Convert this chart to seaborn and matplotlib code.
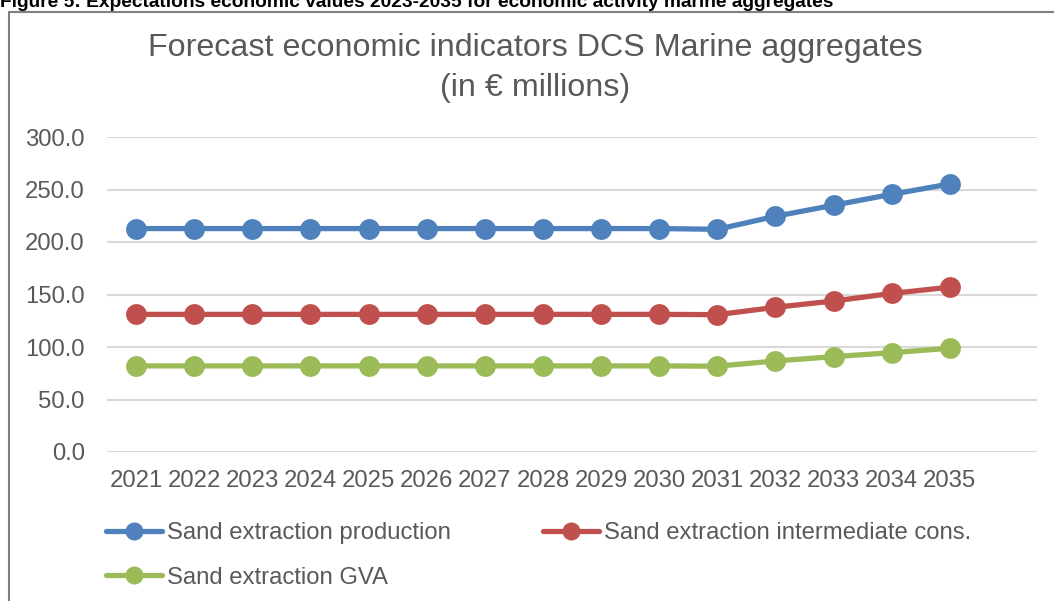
import matplotlib
matplotlib.use("Agg")
import matplotlib.pyplot as plt
import matplotlib.patches as mpatches
import pandas as pd
import seaborn as sns

# Forecast years and indicator values (EUR millions)
years = list(range(2021, 2036))
production = [212.8, 212.8, 212.8, 212.8, 212.8, 212.8, 212.8, 212.8, 212.8, 212.8,
              212.1, 224.5, 235.0, 245.4, 255.3]
intermediate = [131.1, 131.1, 131.1, 131.1, 131.1, 131.1, 131.1, 131.1, 131.1, 131.1,
                130.8, 137.8, 143.8, 151.0, 157.0]
gva = [82.0, 82.0, 82.0, 82.0, 82.0, 82.0, 82.0, 82.0, 82.0, 82.0,
       81.7, 86.7, 90.8, 94.6, 98.8]
series_names = ["Sand extraction production",
                "Sand extraction intermediate cons.",
                "Sand extraction GVA"]
colors = ["#4F81BD", "#C0504D", "#9BBB59"]
y_ticks = [0, 50, 100, 150, 200, 250, 300]

df = pd.DataFrame({
    "year": years * 3,
    "value": production + intermediate + gva,
    "series": [series_names[0]] * 15 + [series_names[1]] * 15 + [series_names[2]] * 15,
})

sns.set_theme(style="white")
plt.rcParams["font.family"] = ["Liberation Sans", "DejaVu Sans"]
text_color = "#595959"
label_size = 17.2

W, H = 1054, 601
fig = plt.figure(figsize=(W / 100, H / 100), dpi=100)
fig.patch.set_facecolor("white")

# plot area in pixel terms
left, right, top, bottom = 107, 1037, 137, 452
ax = fig.add_axes([left / W, 1 - bottom / H, (right - left) / W, (bottom - top) / H])

sns.lineplot(data=df, x="year", y="value", hue="series", palette=colors,
             hue_order=series_names, marker="o", markersize=15, linewidth=3.8,
             markeredgewidth=0, ax=ax, legend=True)

ax.set_xlim(2020.5, 2036.5)
ax.set_ylim(0, 300)
ax.set_xticks(years)
ax.set_xticklabels([str(y) for y in years])
ax.set_yticks(y_ticks)
ax.set_yticklabels([f"{v:.1f}" for v in y_ticks])
ax.set_xlabel("")
ax.set_ylabel("")
ax.yaxis.grid(True, color="#D9D9D9", linewidth=1.5)
ax.xaxis.grid(False)
ax.set_axisbelow(True)
for s in ax.spines.values():
    s.set_visible(False)
ax.tick_params(axis="y", length=0, pad=16, labelsize=label_size, labelcolor=text_color)
ax.tick_params(axis="x", length=0, pad=13, labelsize=label_size, labelcolor=text_color)

handles, labels = ax.get_legend_handles_labels()
ax.get_legend().remove()
for h in handles:
    h.set_markersize(13)
    h.set_linewidth(3.8)
# fill rows left-to-right: production, intermediate / GVA
order = [0, 2, 1]
fig.legend([handles[i] for i in order], [labels[i] for i in order], loc="upper left",
           bbox_to_anchor=(106 / W, 1 - 522 / H), ncol=2, frameon=False,
           fontsize=label_size, labelcolor=text_color, handlelength=2.35,
           handletextpad=0.2, columnspacing=3.85, labelspacing=0.95,
           borderpad=0, borderaxespad=0)

# chart title
fig.text(535 / W, 1 - 48 / H, "Forecast economic indicators DCS Marine aggregates",
         ha="center", va="center", fontsize=23.2, color=text_color)
fig.text(535 / W, 1 - 88 / H, "(in € millions)",
         ha="center", va="center", fontsize=23.2, color=text_color)

# document caption above the chart frame
fig.text(0 / W, 1 - 7 / H,
         "Figure 5: Expectations economic values 2023-2035 for economic activity marine aggregates",
         ha="left", va="baseline", fontsize=13.8, fontweight="bold", color="black")

# chart frame
frame = mpatches.Rectangle((8.5 / W, 0 - 0.1), 1.2, 1 - 11.5 / H + 0.1,
                           transform=fig.transFigure, fill=False,
                           edgecolor="#808080", linewidth=1.5, clip_on=False)
fig.patches.append(frame)

fig.savefig("out.png", dpi=100, facecolor="white")
